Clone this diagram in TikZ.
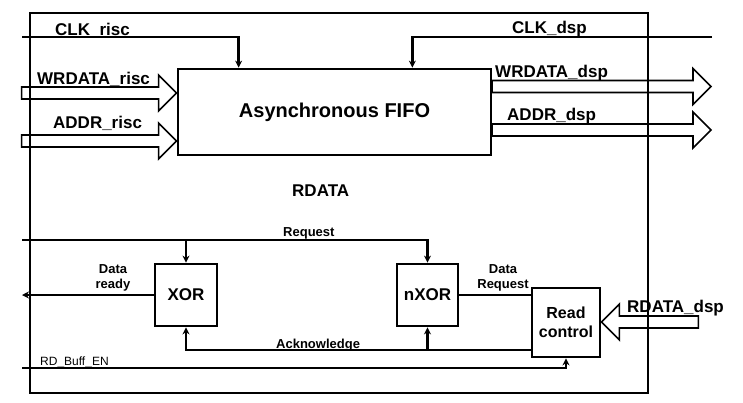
\documentclass[tikz,border=0pt]{standalone}
\usepackage{fontspec}
\setmainfont{Liberation Sans}
\usetikzlibrary{arrows.meta}

% hollow bus arrow: tip, shaft length, direction (1 right, -1 left)
\newcommand{\busarrow}[3]{%
  \draw[bus] (#1) -- ++(-18*#3,-18) -- ++(0,12) -- ++(-#2*#3,0) -- ++(0,12)
    -- ++(#2*#3,0) -- ++(0,12) -- cycle;}

\begin{document}
\begin{tikzpicture}[x=1pt,y=-1pt,
box/.style={draw,line width=2.8pt,font=\fontsize{17}{19}\selectfont\bfseries,align=center,inner sep=0pt},
sig/.style={line width=2.8pt},
tip/.style={-{Stealth[length=7pt,width=7pt]}},
bus/.style={line width=1.6pt,line join=miter},
lbl/.style={font=\fontsize{17}{19}\selectfont\bfseries,inner sep=0pt,anchor=base west},
slbl/.style={font=\fontsize{13}{15}\selectfont\bfseries,inner sep=0pt,align=center},
tlbl/.style={font=\fontsize{12}{14}\selectfont,inner sep=0pt,anchor=base west}]
\useasboundingbox (0,0) rectangle (743,402);

% outer frame
\draw[line width=2.8pt] (30,13) rectangle (648,393);

% blocks
\node[box,minimum width=313,minimum height=86,font=\fontsize{20}{22}\selectfont\bfseries] (fifo) at (334.5,112) {Asynchronous FIFO};
\node[box,minimum width=62,minimum height=62] (xor) at (186,295) {XOR};
\node[box,minimum width=61,minimum height=62] (nxor) at (427.5,295) {nXOR};
\node[box,minimum width=68,minimum height=69,font=\fontsize{16}{19}\selectfont\bfseries] (rc) at (566,322.5) {Read\\control};

% free ends
\coordinate (clkr) at (22,37);
\coordinate (clkd) at (712,37);
\coordinate (req) at (22,240);
\coordinate (dr) at (22,295);
\coordinate (rdbuf) at (22,368);
\coordinate (ack) at ([yshift=-27.5pt]rc.west);

% clocks
\draw[sig,tip] (clkr) -| ([xshift=62pt]fifo.north west);
\draw[sig,tip] (clkd) -| ([xshift=-80pt]fifo.north east);

% buses
\busarrow{fifo.west |- 0,93}{137}{1}
\busarrow{fifo.west |- 0,141}{137}{1}
\busarrow{711,86.5}{201}{1}
\busarrow{711,130}{201}{1}
\busarrow{rc.east |- 0,322}{79}{-1}

% handshake
\draw[sig,tip] (req) -| (nxor.north);
\draw[sig,tip] (xor.north |- req) -- (xor.north);
\draw[sig,tip] (xor.west) -- (dr);
\draw[sig] (nxor.east) -- (nxor.east -| rc.west);
\draw[sig,tip] (ack) -| (xor.south);
\draw[sig,tip] (nxor.south |- ack) -- (nxor.south);
\draw[sig,tip] (rdbuf) -| (rc.south);

% labels
\node[lbl] (lclkr) at (55,35) {CLK\_risc};
\node[lbl] (lwrr) at (37,84) {WRDATA\_risc};
\node[lbl] (laddrr) at (53,128) {ADDR\_risc};
\node[lbl] (lclkd) at (512,33) {CLK\_dsp};
\node[lbl] (lwrd) at (495,77) {WRDATA\_dsp};
\node[lbl] (laddrd) at (507,120) {ADDR\_dsp};
\node[lbl] (lrdata) at (292,196) {RDATA};
\node[lbl] (lrdd) at (627,312) {RDATA\_dsp};
\node[slbl,anchor=base west] (lreq) at (283,236) {Request};
\node[slbl,anchor=base west] (lack) at (276,348) {Acknowledge};
\node[slbl] (ldr) at (113,278) {Data\\ready};
\node[slbl] (ldreq) at (503,278) {Data\\Request};
\node[tlbl] (lrdbuf) at (40,365) {RD\_Buff\_EN};
\end{tikzpicture}
\end{document}
